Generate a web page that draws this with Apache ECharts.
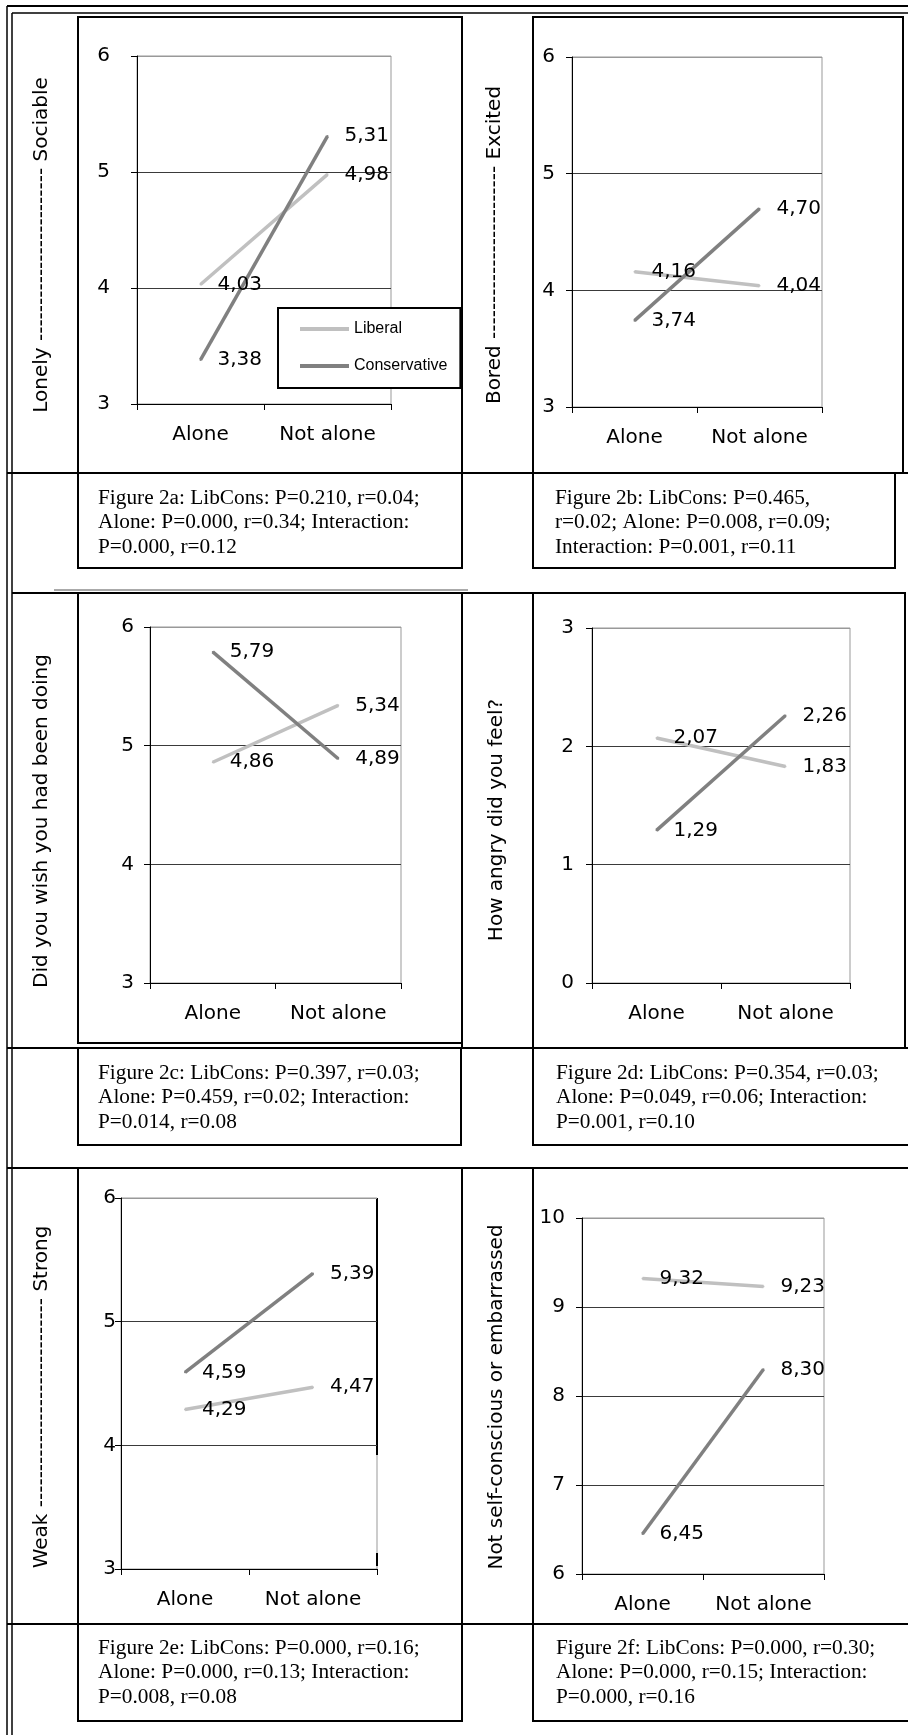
<!DOCTYPE html>
<html>
<head>
<meta charset="utf-8">
<script src="https://cdn.jsdelivr.net/npm/echarts@6/dist/echarts.min.js"></script>
<style>
html, body { margin: 0; padding: 0; background: #fff; }
#chart { width: 908px; height: 1735px; }
</style>
</head>
<body>
<div id="chart"></div>
<script>
// data (means per condition)
var categories = ['Alone', 'Not alone'];
var seriesNames = ['Liberal', 'Conservative'];

var liberal2a = [4.03, 4.98];
var conservative2a = [3.38, 5.31];
var liberal2b = [4.16, 4.04];
var conservative2b = [3.74, 4.70];
var liberal2c = [4.86, 5.34];
var conservative2c = [5.79, 4.89];
var liberal2d = [2.07, 1.83];
var conservative2d = [1.29, 2.26];
var liberal2e = [4.29, 4.47];
var conservative2e = [4.59, 5.39];
var liberal2f = [9.32, 9.23];
var conservative2f = [6.45, 8.30];

var yMin = [3, 3, 3, 0, 3, 6];
var yMax = [6, 6, 6, 3, 6, 10];

var axisTitles = [
	'Lonely ------------------------ Sociable',
	'Bored ------------------------ Excited',
	'Did you wish you had been doing',
	'How angry did you feel?',
	'Not self-conscious or embarrassed',
	'Weak ----------------------------- Strong'
];

var captions = [
	['Figure 2a: LibCons: P=0.210, r=0.04;', 'Alone: P=0.000, r=0.34; Interaction:', 'P=0.000, r=0.12'],
	['Figure 2b: LibCons: P=0.465,', 'r=0.02; Alone: P=0.008, r=0.09;', 'Interaction: P=0.001, r=0.11'],
	['Figure 2c: LibCons: P=0.397, r=0.03;', 'Alone: P=0.459, r=0.02; Interaction:', 'P=0.014, r=0.08'],
	['Figure 2d: LibCons: P=0.354, r=0.03;', 'Alone: P=0.049, r=0.06; Interaction:', 'P=0.001, r=0.10'],
	['Figure 2e: LibCons: P=0.000, r=0.16;', 'Alone: P=0.000, r=0.13; Interaction:', 'P=0.008, r=0.08'],
	['Figure 2f: LibCons: P=0.000, r=0.30;', 'Alone: P=0.000, r=0.15; Interaction:', 'P=0.000, r=0.16']
];

var liberalData = [liberal2a, liberal2b, liberal2c, liberal2d, liberal2e, liberal2f];
var conservativeData = [conservative2a, conservative2b, conservative2c, conservative2d, conservative2e, conservative2f];

// layout of the scanned page
var gridBoxes = [
	{left: 137, top: 56, width: 254, height: 348},
	{left: 572, top: 57, width: 250, height: 350},
	{left: 150, top: 627, width: 251, height: 356},
	{left: 592, top: 628, width: 258, height: 355},
	{left: 121, top: 1198, width: 256, height: 371},
	{left: 582, top: 1218, width: 242, height: 356}
];
var yLabelMargin = [27, 17, 16, 18, 5, 17];
// order of titles on page: a, b, c, d, e, f
var titleOrder = [0, 1, 2, 3, 5, 4];
var titlePos = [[42, 245], [495, 245], [42, 821], [497, 820], [42, 1397], [497, 1397]];
var captionPos = [[98, 498], [555, 498], [98, 1073], [556, 1073], [98, 1648], [556, 1648]];

var libColor = '#c0c0c0';
var conColor = '#808080';
var sansFont = 'DejaVu Sans';

function fmt(p) {
	return p.value.toFixed(2).replace('.', ',');
}

var myChart = echarts.init(document.getElementById('chart'));

var grids = [], xAxes = [], yAxes = [], series = [];
for (var i = 0; i < 6; i++) {
	var g = gridBoxes[i];
	grids.push({
		left: g.left, top: g.top, width: g.width, height: g.height,
		show: true, borderColor: '#999', borderWidth: 1
	});
	xAxes.push({
		type: 'category', gridIndex: i, data: categories, boundaryGap: true,
		axisLine: {lineStyle: {color: '#000', width: 1}},
		axisTick: {show: true, length: 6, lineStyle: {color: '#000'}},
		axisLabel: {interval: 0, margin: 21, fontSize: 20, fontFamily: sansFont, color: '#000'},
		splitLine: {show: false}
	});
	var n = (yMax[i] - yMin[i]) + 1;
	var splitColors = [];
	for (var k = 0; k < n; k++) splitColors.push(k == n - 1 ? '#999' : '#3a3a3a');
	yAxes.push({
		type: 'value', gridIndex: i, min: yMin[i], max: yMax[i], interval: 1,
		axisLine: {show: true, lineStyle: {color: '#000', width: 1}},
		axisTick: {show: true, length: 6, lineStyle: {color: '#000'}},
		axisLabel: {margin: yLabelMargin[i], fontSize: 20, fontFamily: sansFont, color: '#000'},
		splitLine: {show: true, lineStyle: {color: splitColors, width: 1}}
	});
	var lists = [liberalData[i], conservativeData[i]];
	var colors = [libColor, conColor];
	for (var s = 0; s < 2; s++) {
		series.push({
			type: 'line', name: seriesNames[s],
			xAxisIndex: i, yAxisIndex: i,
			data: lists[s],
			color: colors[s],
			symbol: 'circle', symbolSize: 2,
			itemStyle: {color: colors[s]},
			lineStyle: {width: 3.5, color: colors[s], cap: 'butt'},
			label: {
				show: true, position: 'right', distance: 16,
				formatter: fmt, fontSize: 20, fontFamily: sansFont, color: '#000'
			},
			emphasis: {disabled: true},
			silent: true
		});
	}
}

// frame, boxes and text of the page
var graphics = [];
function hline(x1, y, x2, w, c) {
	graphics.push({type: 'line', shape: {x1: x1, y1: y, x2: x2, y2: y}, style: {stroke: c || '#000', lineWidth: w || 2}, silent: true});
}
function vline(x, y1, y2, w, c) {
	graphics.push({type: 'line', shape: {x1: x, y1: y1, x2: x, y2: y2}, style: {stroke: c || '#000', lineWidth: w || 2}, silent: true});
}
function box(x1, y1, x2, y2) {
	graphics.push({type: 'rect', shape: {x: x1, y: y1, width: x2 - x1, height: y2 - y1}, style: {fill: null, stroke: '#000', lineWidth: 2}, silent: true});
}

hline(7, 6, 908, 2);
hline(12, 13, 908, 1.5);
vline(7, 6, 1735, 1.5);
vline(12, 13, 1735, 1.5);
hline(7, 473, 908, 2);
hline(54, 590, 468, 1, '#555');
hline(7, 1048, 908, 2);
hline(7, 1168, 908, 2);
hline(7, 1624, 908, 2);

box(78, 17, 462, 473);
box(533, 17, 903, 473);
box(78, 473, 462, 568);
box(533, 473, 895, 568);

hline(12, 593, 78, 2);
box(78, 593, 462, 1043);
box(462, 593, 533, 1048);
box(533, 593, 905, 1048);
box(78, 1048, 461, 1145);
box(533, 1048, 920, 1145);

box(78, 1168, 462, 1624);
box(462, 1168, 533, 1624);
box(533, 1168, 920, 1624);
box(78, 1624, 462, 1721);
box(533, 1624, 920, 1721);

// thick right edge of plot 2e in the scan
vline(377, 1198, 1455, 2);
vline(377, 1553, 1566, 2);

for (var t = 0; t < 6; t++) {
	graphics.push({
		type: 'text', x: titlePos[t][0], y: titlePos[t][1], rotation: Math.PI / 2,
		style: {
			text: axisTitles[titleOrder[t]], fill: '#000',
			font: '20px "DejaVu Sans"', align: 'center', verticalAlign: 'middle'
		},
		silent: true
	});
}
for (var c = 0; c < 6; c++) {
	for (var l = 0; l < 3; l++) {
		graphics.push({
			type: 'text', x: captionPos[c][0], y: captionPos[c][1] + l * 24.5,
			style: {
				text: captions[c][l], fill: '#000',
				font: '21.3px "Liberation Serif"', align: 'left', verticalAlign: 'middle'
			},
			silent: true
		});
	}
}

var option = {
	animation: false,
	backgroundColor: '#fff',
	grid: grids,
	xAxis: xAxes,
	yAxis: yAxes,
	legend: {
		data: seriesNames,
		orient: 'vertical',
		left: 278, top: 308,
		icon: 'rect', itemWidth: 49, itemHeight: 4, itemGap: 21,
		padding: [13, 13, 14, 22],
		backgroundColor: '#fff', borderColor: '#000', borderWidth: 2, borderRadius: 0,
		textStyle: {fontFamily: 'Liberation Sans', fontSize: 16, color: '#000'},
		selectedMode: false
	},
	graphic: graphics,
	series: series
};

myChart.setOption(option);
</script>
</body>
</html>
